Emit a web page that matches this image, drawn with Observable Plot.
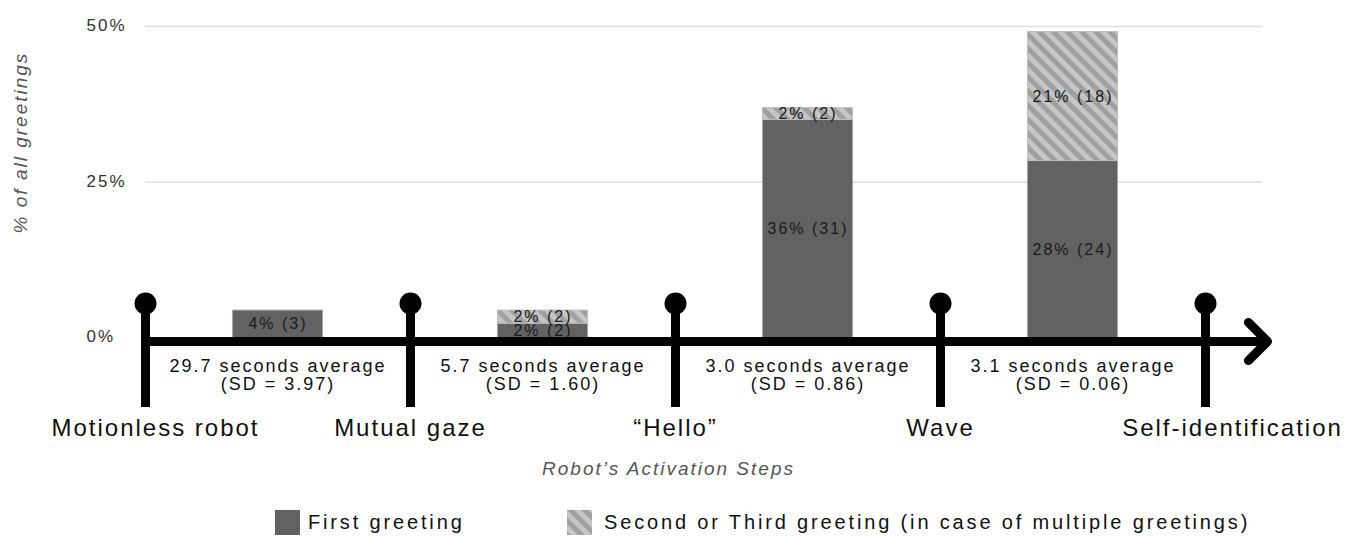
<!DOCTYPE html>
<html>
<head>
<meta charset="utf-8">
<script src="https://cdn.jsdelivr.net/npm/d3@7"></script>
<script src="https://cdn.jsdelivr.net/npm/@observablehq/plot@0.6"></script>
<style>
  body { margin: 0; background: #fff; font-family: "Liberation Sans", Arial, Helvetica, sans-serif; }
  #chart { width: 1358px; }
  #chart svg text { letter-spacing: 2px; }
  #chart svg g[aria-label="ytick"] text { letter-spacing: 2.2px; }
  #chart svg g[aria-label="barlabel"] text { letter-spacing: 1.8px; }
  #chart svg g[aria-label="xtitle"] text { letter-spacing: 2.3px; }
  #legend { position: relative; width: 1358px; height: 41px; color: #111; font-size: 20px; letter-spacing: 2.85px; }
  #legend .sw { position: absolute; top: 15px; width: 25px; height: 25px; }
  #legend .lab { position: absolute; top: 15px; line-height: 25px; white-space: nowrap; }
</style>
</head>
<body>
<div id="chart"></div>
<div id="legend"></div>
<script>
// ---- data ----
const steps = ["Motionless robot", "Mutual gaze", "\u201CHello\u201D", "Wave", "Self-identification"];
const intervals = [
  "29.7 seconds average\n(SD = 3.97)",
  "5.7 seconds average\n(SD = 1.60)",
  "3.0 seconds average\n(SD = 0.86)",
  "3.1 seconds average\n(SD = 0.06)"
];
const firstGreeting = [4.4, 2.3, 35.0, 28.4];
const laterGreeting = [0, 2.1, 1.9, 20.7];
const firstLabels = ["4% (3)", "2% (2)", "36% (31)", "28% (24)"];
const laterLabels = ["", "2% (2)", "2% (2)", "21% (18)"];
const yTicks = [0, 25, 50];
const yTickLabels = ["0%", "25%", "50%"];
const seriesNames = ["First greeting", "Second or Third greeting (in case of multiple greetings)"];
const yTitle = "% of all greetings";
const xTitle = "Robot\u2019s Activation Steps";

// ---- build stacked rows ----
const rows = [];
firstGreeting.forEach((v, i) => {
  rows.push({i, series: "first", y1: 0, y2: v, label: firstLabels[i]});
  if (laterGreeting[i] > 0) rows.push({i, series: "later", y1: v, y2: v + laterGreeting[i], label: laterLabels[i]});
});

const font = "'Liberation Sans', Arial, Helvetica, sans-serif";
const halfBar = 0.17;
const dark = "#626262";
const n = steps.length - 1;

const chart = Plot.plot({
  width: 1358,
  height: 495,
  marginLeft: 145,
  marginRight: 96,
  marginTop: 303,
  marginBottom: 88,
  x: {domain: [0, n], range: [145, 1205], axis: null},
  y: {domain: [0, 50], range: [337.5, 26], axis: null},
  style: {fontFamily: font, background: "#fff", overflow: "visible"},
  marks: [
    Plot.ruleY(yTicks.filter(d => d > 0), {stroke: "#dedede", strokeWidth: 1.5}),
    Plot.text(yTicks, {y: d => d, text: (d, i) => yTickLabels[i], frameAnchor: "left", textAnchor: "start",
      lineAnchor: "middle", dx: -59, dy: -1, fontSize: 17, fill: "#333", ariaLabel: "ytick"}),
    Plot.rect(rows.filter(d => d.series === "first"), {
      x1: d => d.i + 0.5 - halfBar, x2: d => d.i + 0.5 + halfBar, y1: "y1", y2: "y2",
      fill: dark, stroke: "#a8a8a8", strokeWidth: 1}),
    Plot.rect(rows.filter(d => d.series === "later"), {
      x1: d => d.i + 0.5 - halfBar, x2: d => d.i + 0.5 + halfBar, y1: "y1", y2: "y2",
      fill: "url(#hatch)", stroke: "#bdbdbd", strokeWidth: 1}),
    Plot.text(rows.filter(d => d.label), {x: d => d.i + 0.5, y: d => (d.y1 + d.y2) / 2, text: "label",
      fontSize: 16, fill: "#1a1a1a", ariaLabel: "barlabel"}),
    Plot.arrow([0], {x1: () => 0, x2: () => n, y1: () => 0, y2: () => 0, dy: 3.5,
      stroke: "#000", strokeWidth: 9, headAngle: 90, headLength: 4.5, insetEnd: -62}),
    Plot.ruleX(steps, {x: (d, i) => i, stroke: "#000", strokeWidth: 9}),
    Plot.dot(steps, {x: (d, i) => i, frameAnchor: "top", r: 11, fill: "#000"}),
    Plot.text(intervals, {x: (d, i) => i + 0.5, y: () => 0, dy: 37.5, lineAnchor: "middle", lineHeight: 1,
      fontSize: 18, fill: "#111", ariaLabel: "interval"}),
    Plot.text(steps.filter((d, i) => i > 0 && i < n), {x: (d, i) => i + 1, frameAnchor: "bottom", lineAnchor: "top",
      textAnchor: "middle", dy: 11, fontSize: 24, fill: "#111", ariaLabel: "step"}),
    Plot.text([steps[0]], {x: () => 0, frameAnchor: "bottom", lineAnchor: "top", textAnchor: "middle",
      dy: 11, dx: 10, fontSize: 24, fill: "#111", ariaLabel: "step"}),
    Plot.text([steps[n]], {x: () => n, frameAnchor: "bottom", lineAnchor: "top", textAnchor: "middle",
      dy: 11, dx: 27, fontSize: 24, fill: "#111", ariaLabel: "step"}),
    Plot.text([xTitle], {x: () => n / 2, frameAnchor: "bottom", lineAnchor: "middle", textAnchor: "middle",
      dy: 61, dx: -7, fontSize: 19, fontStyle: "italic", fill: "#555", ariaLabel: "xtitle"}),
    Plot.text([yTitle], {frameAnchor: "top-left", textAnchor: "middle", lineAnchor: "middle",
      dx: -125, dy: -161, rotate: -90,
      fontSize: 19, fontStyle: "italic", fill: "#555", ariaLabel: "ytitle"})
  ]
});

// hatch pattern
function addHatch(svgSel, id) {
  const p = svgSel.insert("defs", ":first-child").append("pattern")
    .attr("id", id).attr("patternUnits", "userSpaceOnUse")
    .attr("width", 10).attr("height", 10).attr("patternTransform", "rotate(-45)");
  p.append("rect").attr("width", 10).attr("height", 10).attr("fill", "#c6c6c6");
  p.append("rect").attr("width", 5).attr("height", 10).attr("fill", "#a0a0a0");
}
const svg = d3.select(chart);
addHatch(svg, "hatch");
document.getElementById("chart").appendChild(chart);

// legend
const legend = d3.select("#legend");
legend.append("div").attr("class", "sw").style("left", "275px").style("background", dark);
legend.append("div").attr("class", "lab").style("left", "308px").text(seriesNames[0]);
const sw2 = legend.append("svg").attr("class", "sw").style("left", "567px").attr("width", 25).attr("height", 25);
addHatch(sw2, "hatch2");
sw2.append("rect").attr("width", 25).attr("height", 25).attr("fill", "url(#hatch2)");
legend.append("div").attr("class", "lab").style("left", "604px").text(seriesNames[1]);
</script>
</body>
</html>
